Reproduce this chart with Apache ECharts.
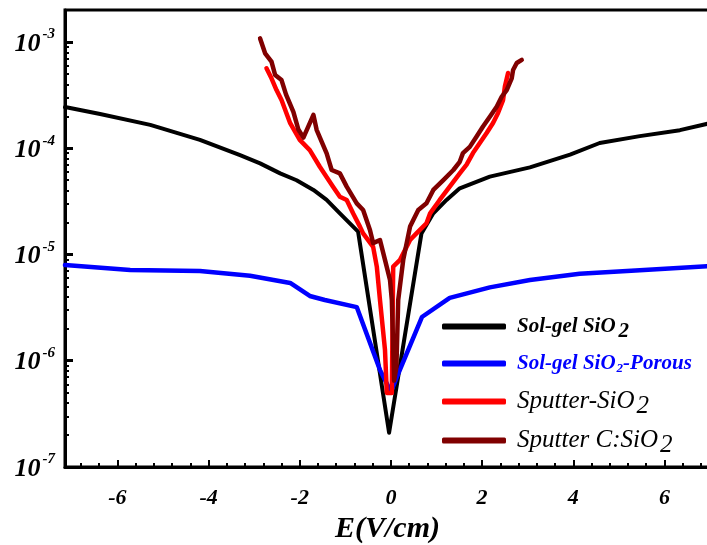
<!DOCTYPE html>
<html>
<head>
<meta charset="utf-8">
<script src="https://cdn.jsdelivr.net/npm/echarts@6/dist/echarts.min.js"></script>
<style>
  html, body { margin: 0; padding: 0; background: #fff; }
  #chart { width: 707px; height: 545px; }
</style>
</head>
<body>
<div id="chart"></div>
<script>
// Axis ticks
const xMajorTicks = [-6, -4, -2, 0, 2, 4, 6];
const xMinorTicks = [];
for (let v = -6.8; v < 7; v += 0.4) {
  const r = Math.round(v * 10) / 10;
  if (Math.abs(r / 2 - Math.round(r / 2)) > 1e-6) xMinorTicks.push(r);
}
const yMajorTicks = [1e-7, 1e-6, 1e-5, 1e-4, 1e-3];
const yMinorTicks = [];
[1e-7, 1e-6, 1e-5, 1e-4].forEach(d => {
  for (let m = 2; m <= 9; m++) yMinorTicks.push(+(m * d).toPrecision(3));
});

// Sol-gel SiO2
const solgelE = [-7.15, -6.38, -5.28, -4.19, -3.31, -2.87, -2.43, -2.07, -1.70, -1.41,
  -1.12, -0.72, -0.04, 0.67, 0.93, 1.22, 1.51, 2.17, 3.05, 3.93,
  4.58, 5.46, 6.34, 7.0];
const solgelJ = [2.44e-4, 2.1e-4, 1.66e-4, 1.2e-4, 8.6e-5, 7.2e-5, 5.8e-5, 5.0e-5, 4.05e-5, 3.26e-5,
  2.44e-5, 1.64e-5, 2.1e-7, 1.58e-5, 2.44e-5, 3.26e-5, 4.2e-5, 5.4e-5, 6.6e-5, 8.7e-5,
  1.12e-4, 1.30e-4, 1.48e-4, 1.72e-4];

// Sol-gel SiO2-Porous
const porousE = [-7.15, -5.72, -4.19, -3.09, -2.21, -1.78, -1.45, -0.75, -0.24, 0.0,
  0.13, 0.68, 1.29, 2.17, 3.05, 4.14, 5.46, 7.0];
const porousJ = [7.96e-6, 7.14e-6, 7.0e-6, 6.3e-6, 5.4e-6, 4.07e-6, 3.73e-6, 3.2e-6, 8.2e-7, 5.1e-7,
  7.0e-7, 2.58e-6, 3.9e-6, 4.9e-6, 5.75e-6, 6.6e-6, 7.1e-6, 7.8e-6];

// Sputter-SiO2
const sputE = [-2.73, -2.62, -2.51, -2.40, -2.21, -2.0, -1.78, -1.56, -1.27, -1.12,
  -0.97, -0.83, -0.68, -0.61, -0.39, -0.31, -0.24, -0.13, -0.09, 0.02,
  0.05, 0.20, 0.42, 0.56, 0.78, 0.86, 1.07, 1.29, 1.51, 1.66,
  1.80, 1.95, 2.10, 2.24, 2.35, 2.46, 2.50, 2.57];
const sputJ = [5.65e-4, 4.55e-4, 3.53e-4, 2.84e-4, 1.72e-4, 1.2e-4, 9.6e-5, 6.7e-5, 4.35e-5, 3.5e-5,
  3.26e-5, 2.44e-5, 1.83e-5, 1.58e-5, 1.18e-5, 7.7e-6, 3.73e-6, 1.26e-6, 4.97e-7, 4.97e-7,
  7.7e-6, 8.9e-6, 1.37e-5, 1.58e-5, 1.97e-5, 2.44e-5, 3.26e-5, 4.35e-5, 5.8e-5, 7.0e-5,
  9.0e-5, 1.12e-4, 1.39e-4, 1.73e-4, 2.15e-4, 2.84e-4, 3.8e-4, 5.1e-4];

// Sputter C:SiO2
const carbonE = [-2.87, -2.76, -2.62, -2.54, -2.40, -2.30, -2.14, -2.03, -1.92, -1.70,
  -1.63, -1.41, -1.30, -1.12, -0.97, -0.75, -0.61, -0.46, -0.39, -0.24,
  -0.13, -0.02, 0.02, 0.07, 0.12, 0.16, 0.27, 0.42, 0.60, 0.78,
  0.93, 1.15, 1.37, 1.51, 1.58, 1.73, 1.88, 2.02, 2.17, 2.32,
  2.43, 2.54, 2.65, 2.68, 2.76, 2.87];
const carbonJ = [1.08e-3, 7.83e-4, 6.53e-4, 4.89e-4, 4.38e-4, 3.2e-4, 2.2e-4, 1.5e-4, 1.26e-4, 2.06e-4,
  1.49e-4, 8.95e-5, 6.24e-5, 5.8e-5, 4.35e-5, 3.03e-5, 2.62e-5, 1.7e-5, 1.28e-5, 1.37e-5,
  8.9e-6, 5.75e-6, 3.73e-6, 6.5e-7, 8.7e-7, 3.73e-6, 8.9e-6, 1.83e-5, 2.62e-5, 3.03e-5,
  4.05e-5, 5.02e-5, 6.24e-5, 7.46e-5, 9.0e-5, 1.03e-4, 1.29e-4, 1.6e-4, 1.98e-4, 2.46e-4,
  3.05e-4, 3.53e-4, 4.55e-4, 5.45e-4, 6.34e-4, 6.78e-4];

const seriesNames = ['Sol-gel SiO2', 'Sol-gel SiO2-Porous', 'Sputter-SiO2', 'Sputter C:SiO2'];
const seriesColors = ['#000000', '#0000ff', '#ff0000', '#800000'];

const SERIF = '"Liberation Serif", "Times New Roman", serif';
const zip = (xs, ys) => xs.map((x, i) => [x, ys[i]]);

function legendItem(idx, top, rich, text) {
  return {
    data: [seriesNames[idx]],
    left: 442,
    top: top,
    orient: 'vertical',
    icon: 'roundRect',
    itemWidth: 64,
    itemHeight: 6,
    padding: 0,
    selectedMode: false,
    formatter: () => text,
    textStyle: { padding: [0, 0, 0, 6], rich: rich }
  };
}

const boldRich = {
  a: { fontFamily: SERIF, fontStyle: 'italic', fontWeight: 'bold', fontSize: 21, color: '#000', lineHeight: 30 },
  s: { fontFamily: SERIF, fontStyle: 'italic', fontWeight: 'bold', fontSize: 21, color: '#000', lineHeight: 30, padding: [10, 0, 0, 3] }
};
const blueRich = {
  a: { fontFamily: SERIF, fontStyle: 'italic', fontWeight: 'bold', fontSize: 21, color: '#0000ff', lineHeight: 30 },
  s: { fontFamily: SERIF, fontStyle: 'italic', fontWeight: 'bold', fontSize: 13, color: '#0000ff', lineHeight: 30, padding: [10, 0, 0, 1] }
};
const plainRich = {
  a: { fontFamily: SERIF, fontStyle: 'italic', fontSize: 25, color: '#000', lineHeight: 32 },
  s: { fontFamily: SERIF, fontStyle: 'italic', fontSize: 25, color: '#000', lineHeight: 32, padding: [10, 0, 0, 2] }
};

const chart = echarts.init(document.getElementById('chart'), null, { renderer: 'canvas' });

const tickFont = { fontFamily: SERIF, fontStyle: 'italic', fontWeight: 'bold', color: '#000' };

chart.setOption({
  backgroundColor: '#fff',
  animation: false,
  grid: {
    left: 65, right: -3, top: 10, bottom: 78,
    outerBoundsMode: 'none', containLabel: false,
    show: true, borderColor: '#000', borderWidth: 3, backgroundColor: 'transparent'
  },
  xAxis: [{
    type: 'value', min: -7.15, max: 7.0, position: 'bottom',
    name: 'E(V/cm)', nameLocation: 'middle', nameGap: 41,
    nameTextStyle: Object.assign({ fontSize: 30 }, tickFont),
    axisLine: { show: true, onZero: false, lineStyle: { color: '#000', width: 3 } },
    axisTick: { show: true, inside: true, length: 7, customValues: xMajorTicks, lineStyle: { color: '#000', width: 2 } },
    axisLabel: Object.assign({ fontSize: 22, margin: 20, customValues: xMajorTicks, formatter: v => String(v) }, tickFont),
    splitLine: { show: false }
  }, {
    type: 'value', min: -7.15, max: 7.0, position: 'bottom',
    axisLine: { show: false, onZero: false },
    axisTick: { show: true, inside: true, length: 4, customValues: xMinorTicks, lineStyle: { color: '#000', width: 2 } },
    axisLabel: { show: false },
    splitLine: { show: false }
  }],
  yAxis: [{
    type: 'log', min: 1e-7, max: 2e-3, logBase: 10, position: 'left',
    axisLine: { show: true, onZero: false, lineStyle: { color: '#000', width: 3 } },
    axisTick: { show: true, inside: true, length: 8, customValues: yMajorTicks, lineStyle: { color: '#000', width: 3 } },
    axisLabel: {
      customValues: yMajorTicks, margin: 10,
      formatter: v => '{b|10}{s|' + Math.round(Math.log10(v)) + '}',
      rich: {
        b: Object.assign({ fontSize: 26, lineHeight: 30, verticalAlign: 'bottom' }, tickFont),
        s: Object.assign({ fontSize: 15, lineHeight: 30, verticalAlign: 'top', padding: [0, 0, 0, 2] }, tickFont)
      }
    },
    splitLine: { show: false }
  }, {
    type: 'log', min: 1e-7, max: 2e-3, logBase: 10, position: 'left',
    axisLine: { show: false, onZero: false },
    axisTick: { show: true, inside: true, length: 4, customValues: yMinorTicks, lineStyle: { color: '#000', width: 2 } },
    axisLabel: { show: false },
    splitLine: { show: false }
  }],
  legend: [
    legendItem(0, 311, boldRich, '{a|Sol-gel SiO}{s|2}'),
    legendItem(1, 352, blueRich, '{a|Sol-gel SiO}{s|2}{a|-Porous}'),
    legendItem(2, 384, plainRich, '{a|Sputter-SiO}{s|2}'),
    legendItem(3, 423, plainRich, '{a|Sputter C:SiO}{s|2}')
  ],
  series: [
    { name: seriesNames[0], data: zip(solgelE, solgelJ) },
    { name: seriesNames[1], data: zip(porousE, porousJ) },
    { name: seriesNames[2], data: zip(sputE, sputJ) },
    { name: seriesNames[3], data: zip(carbonE, carbonJ) }
  ].map((s, i) => Object.assign({
    type: 'line', showSymbol: false, symbol: 'none', smooth: false,
    xAxisIndex: 0, yAxisIndex: 0, clip: true,
    color: seriesColors[i],
    lineStyle: { color: seriesColors[i], width: i === 0 ? 4 : 4.5, join: 'round', cap: 'round' },
    emphasis: { disabled: true }
  }, s))
});
</script>
</body>
</html>
